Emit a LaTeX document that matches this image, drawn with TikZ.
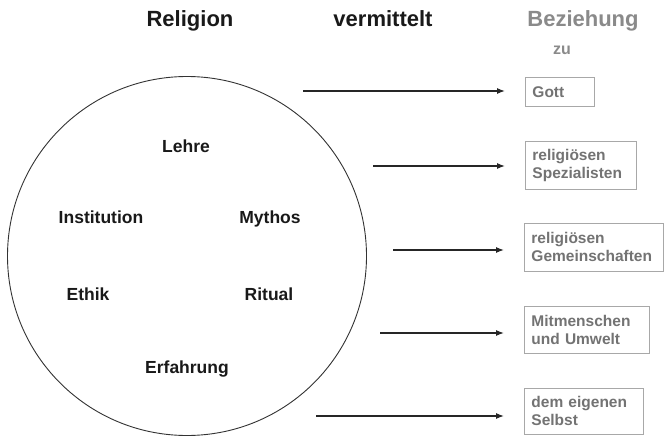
\documentclass[tikz,border=0pt]{standalone}
\usepackage{fontspec}
\setmainfont{Liberation Sans}
\usetikzlibrary{arrows.meta}
\definecolor{boxtext}{HTML}{737373}
\definecolor{boxline}{HTML}{A8A8A8}
\definecolor{headgray}{HTML}{8A8A8A}
\tikzset{
  title/.style={font=\fontsize{22}{26}\selectfont\bfseries, text=black!90, inner sep=0pt, anchor=base},
  graytitle/.style={font=\fontsize{22}{26}\selectfont\bfseries, text=headgray, inner sep=0pt, anchor=base},
  item/.style={font=\fontsize{17.5}{20}\selectfont\bfseries, text=black!90, inner sep=0pt, anchor=base},
  relbox/.style={draw=boxline, line width=0.9pt, anchor=north west, align=left,
    font=\fontsize{15.5}{18}\selectfont\bfseries, text=boxtext,
    inner xsep=7pt, inner ysep=0pt},
  arr/.style={-{Latex[length=8pt,width=6pt]}, line width=1.2pt, black!85, shorten >=20pt},
}
\begin{document}
\begin{tikzpicture}[x=1pt,y=-1pt]
\useasboundingbox[fill=white] (0,0) rectangle (664,436);
% headings
\node[title] (hrel) at (190,27) {Religion};
\node[title] (hverm) at (383,27) {vermittelt};
\node[graytitle] (hbez) at (583,27) {Beziehung};
\node[font=\fontsize{16}{18}\selectfont\bfseries, text=headgray, inner sep=0pt, anchor=base] (hzu) at (562,55) {zu};
% circle
\node[draw, circle, line width=0.9pt, black!80, minimum size=359pt, inner sep=0pt] (circ) at (187,256) {};
\node[item] (lehre) at (186,152) {Lehre};
\node[item] (inst) at (101,223) {Institution};
\node[item] (myth) at (270,223) {Mythos};
\node[item] (ethik) at (88,300) {Ethik};
\node[item] (ritual) at (269,300) {Ritual};
\node[item] (erf) at (187,373) {Erfahrung};
% boxes
\node[relbox, minimum width=69pt, minimum height=29pt, text width=55pt] (b1) at (525,77) {Gott};
\node[relbox, minimum width=111pt, minimum height=48pt, text width=97pt] (b2) at (525,141) {religiösen\\Spezialisten};
\node[relbox, minimum width=139pt, minimum height=48pt, text width=125pt] (b3) at (524,223) {religiösen\\Gemeinschaften};
\node[relbox, minimum width=125pt, minimum height=47pt, text width=111pt] (b4) at (524,306) {Mitmenschen\\und Umwelt};
\node[relbox, minimum width=119pt, minimum height=46pt, text width=105pt] (b5) at (524,388) {dem eigenen\\Selbst};
% arrow starts
\coordinate (s1) at (303,91);
\coordinate (s2) at (373,166);
\coordinate (s3) at (393,250);
\coordinate (s4) at (380,333);
\coordinate (s5) at (316,416);
\draw[arr] (s1) -- (s1 -| b1.west);
\draw[arr] (s2) -- (s2 -| b2.west);
\draw[arr] (s3) -- (s3 -| b3.west);
\draw[arr] (s4) -- (s4 -| b4.west);
\draw[arr] (s5) -- (s5 -| b5.west);
\end{tikzpicture}
\end{document}
